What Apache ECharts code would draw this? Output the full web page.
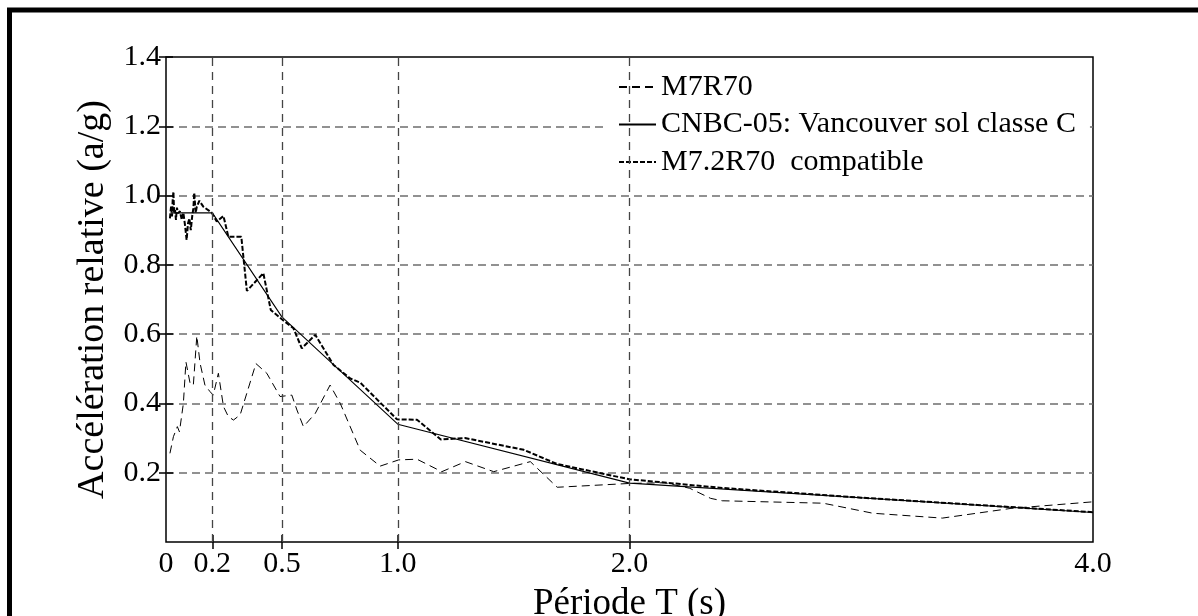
<!DOCTYPE html>
<html>
<head>
<meta charset="utf-8">
<script src="https://cdn.jsdelivr.net/npm/echarts@6/dist/echarts.min.js"></script>
<style>
html, body { margin: 0; padding: 0; background: #fff; }
#chart { width: 1198px; height: 616px; }
</style>
</head>
<body>
<div id="chart"></div>
<script>
// x ticks shown in the figure (period, s)
var periodTicks = [0, 0.2, 0.5, 1.0, 2.0, 4.0];
var periodTickLabels = ['0', '0.2', '0.5', '1.0', '2.0', '4.0'];
var periodGridLines = [0.2, 0.5, 1.0, 2.0];
var accelTicks = [0.2, 0.4, 0.6, 0.8, 1.0, 1.2, 1.4];

var seriesNames = ['M7R70', 'CNBC-05: Vancouver sol classe C', 'M7.2R70  compatible'];

// [T (s), a/g]
var m7r70 = [
  [0.017, 0.256], [0.032, 0.304], [0.049, 0.333], [0.058, 0.318], [0.075, 0.40],
  [0.086, 0.52], [0.104, 0.458], [0.118, 0.453], [0.133, 0.595], [0.147, 0.516],
  [0.168, 0.453], [0.19, 0.434], [0.204, 0.424], [0.226, 0.487], [0.248, 0.391],
  [0.269, 0.362], [0.291, 0.352], [0.32, 0.367], [0.388, 0.515], [0.435, 0.487],
  [0.492, 0.42], [0.543, 0.424], [0.565, 0.381], [0.593, 0.333], [0.644, 0.371],
  [0.708, 0.453], [0.752, 0.40], [0.838, 0.265], [0.924, 0.219], [1.004, 0.237],
  [1.083, 0.239], [1.19, 0.203], [1.292, 0.232], [1.414, 0.203], [1.572, 0.232],
  [1.688, 0.158], [2.0, 0.169], [2.153, 0.171], [2.26, 0.155], [2.35, 0.126],
  [2.40, 0.119], [2.836, 0.112], [3.05, 0.083], [3.35, 0.069], [3.646, 0.097],
  [4.0, 0.116]
];

var cnbc05 = [
  [0.02, 0.95], [0.2, 0.95], [0.5, 0.65], [1.0, 0.34], [2.0, 0.17], [4.0, 0.085]
];

var m72r70 = [
  [0.017, 0.934], [0.022, 0.97], [0.026, 0.94], [0.029, 0.99], [0.032, 1.011],
  [0.035, 0.95], [0.039, 0.958], [0.043, 0.93], [0.047, 0.965], [0.053, 0.949],
  [0.06, 0.955], [0.068, 0.93], [0.075, 0.95], [0.082, 0.915], [0.089, 0.872],
  [0.095, 0.92], [0.101, 0.934], [0.107, 0.90], [0.113, 0.94], [0.118, 0.963],
  [0.122, 1.008], [0.128, 0.95], [0.133, 0.968], [0.144, 0.985], [0.161, 0.968],
  [0.197, 0.951], [0.219, 0.925], [0.248, 0.941], [0.269, 0.881], [0.325, 0.881],
  [0.349, 0.725], [0.42, 0.776], [0.452, 0.67], [0.5, 0.643], [0.55, 0.617],
  [0.586, 0.559], [0.644, 0.598], [0.723, 0.511], [0.795, 0.472], [0.838, 0.46],
  [0.997, 0.354], [1.083, 0.353], [1.186, 0.296], [1.29, 0.30], [1.544, 0.266],
  [1.688, 0.225], [2.0, 0.181], [2.4, 0.156], [3.0, 0.128], [3.5, 0.107], [4.0, 0.086]
];

var serif = "'Liberation Serif', 'Times New Roman', serif";

var chart = echarts.init(document.getElementById('chart'), null, { renderer: 'canvas' });

function xLabel(v) {
  for (var i = 0; i < periodTicks.length; i++) {
    if (Math.abs(periodTicks[i] - v) < 1e-9) return periodTickLabels[i];
  }
  return '';
}

var tickStyle = { color: '#000', width: 1.5 };

chart.setOption({
  animation: false,
  backgroundColor: '#fff',
  graphic: [{
    type: 'rect',
    shape: { x: 9.5, y: 10, width: 1400, height: 800 },
    style: { fill: 'none', stroke: '#000', lineWidth: 5 },
    silent: true
  }],
  grid: {
    left: 166, top: 57, right: 105, bottom: 74,
    outerBoundsMode: 'none',
    show: true, borderColor: '#000', borderWidth: 1.5
  },
  legend: {
    data: seriesNames,
    orient: 'vertical',
    left: 607, top: 62,
    padding: [10, 14, 5, 11],
    itemGap: 7.5,
    itemWidth: 37, itemHeight: 14,
    backgroundColor: '#fff',
    borderWidth: 0,
    itemStyle: { opacity: 0 },
    textStyle: { fontFamily: serif, fontSize: 30, color: '#000', lineHeight: 30 }
  },
  xAxis: [{
    type: 'value', min: 0, max: 4, position: 'bottom',
    name: 'Période T (s)', nameLocation: 'middle', nameGap: 28,
    nameTextStyle: { fontFamily: serif, fontSize: 37, color: '#000', lineHeight: 40 },
    axisLine: { show: false },
    axisTick: { show: true, inside: true, length: 7, customValues: periodGridLines, lineStyle: tickStyle },
    axisLabel: {
      customValues: periodTicks, formatter: xLabel, margin: 7,
      fontFamily: serif, fontSize: 30, color: '#000', lineHeight: 30
    },
    splitLine: { show: false }
  }, {
    type: 'value', min: 0, max: 4, position: 'top',
    axisLine: { show: false },
    axisTick: { show: true, inside: true, length: 7, customValues: periodGridLines, lineStyle: tickStyle },
    axisLabel: { show: false },
    splitLine: { show: false }
  }],
  yAxis: [{
    type: 'value', min: 0, max: 1.4, interval: 0.2, position: 'left',
    name: 'Accélération relative (a/g)', nameLocation: 'middle', nameGap: 33,
    nameTextStyle: { fontFamily: serif, fontSize: 38, color: '#000', lineHeight: 40 },
    axisLine: { show: false },
    axisTick: { show: true, inside: true, length: 7, customValues: accelTicks, lineStyle: tickStyle },
    axisLabel: {
      showMinLabel: false, margin: 5, padding: [6, 0, 0, 0],
      formatter: function (v) { return v.toFixed(1); },
      fontFamily: serif, fontSize: 30, color: '#000', lineHeight: 30
    },
    splitLine: {
      show: true, showMinLine: true, showMaxLine: false,
      lineStyle: { color: '#6e6e6e', width: 1.6, type: [8, 5] }
    }
  }, {
    type: 'value', min: 0, max: 1.4, interval: 0.2, position: 'right',
    axisLine: { show: false },
    axisTick: { show: true, inside: true, length: 7, customValues: accelTicks, lineStyle: tickStyle },
    axisLabel: { show: false },
    splitLine: { show: false }
  }],
  series: [{
    name: seriesNames[0], type: 'line', data: m7r70,
    xAxisIndex: 0, yAxisIndex: 0,
    symbol: 'none', showSymbol: false,
    lineStyle: { color: '#000', width: 1, type: [8, 5] },
    markLine: {
      silent: true, symbol: ['none', 'none'],
      label: { show: false },
      lineStyle: { color: '#444', width: 1.3, type: [8, 6] },
      data: periodGridLines.map(function (t) { return { xAxis: t }; })
    }
  }, {
    name: seriesNames[1], type: 'line', data: cnbc05,
    xAxisIndex: 0, yAxisIndex: 0,
    symbol: 'none', showSymbol: false,
    lineStyle: { color: '#000', width: 1.1, type: 'solid' }
  }, {
    name: seriesNames[2], type: 'line', data: m72r70,
    xAxisIndex: 0, yAxisIndex: 0,
    symbol: 'none', showSymbol: false,
    lineStyle: { color: '#000', width: 2, type: [5, 2] }
  }]
});
</script>
</body>
</html>
